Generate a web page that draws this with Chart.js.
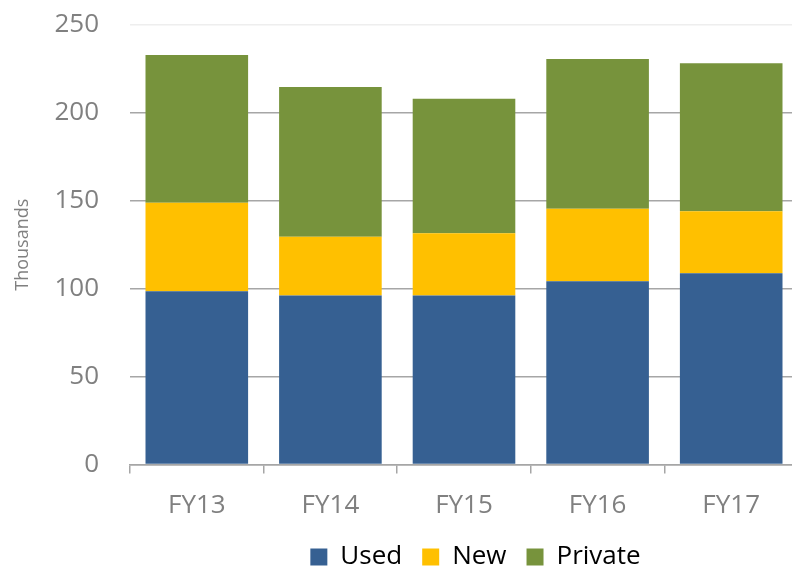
<!DOCTYPE html>
<html>
<head>
<meta charset="utf-8">
<script src="https://cdn.jsdelivr.net/npm/chart.js@4.4.1/dist/chart.umd.min.js"></script>
<style>
  html, body { margin: 0; padding: 0; background: #fff; overflow: hidden; }
  #chart { display: block; }
</style>
</head>
<body>
<canvas id="chart" width="800" height="580"></canvas>
<script>
// data (thousands)
const years = ['FY13', 'FY14', 'FY15', 'FY16', 'FY17'];
const used = [98.5, 96.2, 96.2, 104.2, 108.8];
const newCars = [50.4, 33.3, 35.4, 41.3, 35.2];
const priv = [84, 85.2, 76.4, 85.1, 84.3];
const yTicks = [0, 50, 100, 150, 200, 250];

const gray = '#808080';
const gridGray = '#a6a6a6';

// move the legend a bit to the right, like the original
const shiftLegend = {
  id: 'shiftLegend',
  afterLayout(chart) {
    chart.legend.left += 153;
  }
};

const ctx = document.getElementById('chart').getContext('2d');
new Chart(ctx, {
  type: 'bar',
  data: {
    labels: years,
    datasets: [
      { label: 'Used', data: used, backgroundColor: '#366092' },
      { label: 'New', data: newCars, backgroundColor: '#ffc000' },
      { label: 'Private', data: priv, backgroundColor: '#77933c' }
    ]
  },
  options: {
    responsive: false,
    animation: false,
    layout: { padding: { top: 25, right: 2, left: 0, bottom: 0 } },
    datasets: {
      bar: { categoryPercentage: 1, barPercentage: 0.768, borderWidth: 0 }
    },
    scales: {
      x: {
        stacked: true,
        afterFit: s => { s.height = 59.5 },
        border: { display: true, color: gridGray, width: 1.5 },
        grid: { drawOnChartArea: false, drawTicks: true, tickLength: 9, color: gridGray, lineWidth: 1.5 },
        ticks: { color: gray, padding: 16, font: { family: 'Open Sans', size: 26 } }
      },
      y: {
        stacked: true,
        min: 0,
        max: 250,
        afterFit: s => { s.width = 130 },
        afterBuildTicks: s => { s.ticks = yTicks.map(v => ({ value: v })) },
        border: { display: false },
        grid: {
          drawTicks: true,
          tickLength: 31,
          tickColor: 'rgba(0,0,0,0)',
          lineWidth: 1.5,
          color: c => c.tick && c.tick.value === 250 ? '#eeeeee' : gridGray
        },
        ticks: { color: gray, padding: 0, font: { family: 'Open Sans', size: 26 } },
        title: {
          display: true,
          text: 'Thousands',
          color: gray,
          padding: { top: 12, bottom: 0 },
          font: { family: 'Open Sans', size: 18 }
        }
      }
    },
    plugins: {
      legend: {
        position: 'bottom',
        labels: {
          color: '#000',
          boxWidth: 17,
          boxHeight: 17,
          padding: 20,
          font: { family: 'Open Sans', size: 26 }
        }
      },
      tooltip: { enabled: false }
    }
  },
  plugins: [shiftLegend]
});
</script>
</body>
</html>
